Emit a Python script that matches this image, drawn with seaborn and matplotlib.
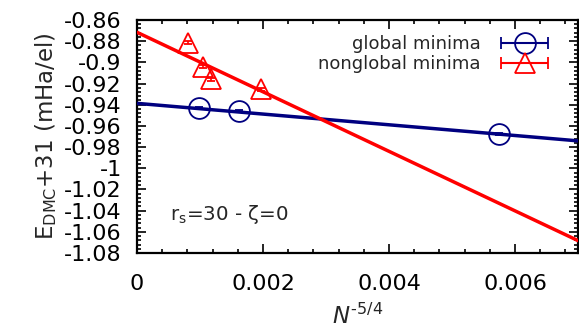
import numpy as np
import pandas as pd
import matplotlib
matplotlib.use("Agg")
import matplotlib.pyplot as plt
import seaborn as sns
from matplotlib.ticker import MultipleLocator, FixedLocator, FixedFormatter
from matplotlib.container import ErrorbarContainer
from matplotlib.legend_handler import HandlerErrorbar

# ---- data ----
global_x = [0.000989, 0.001624, 0.005746]
global_y = [-0.9434, -0.9460, -0.9677]
global_err = [0.0008, 0.0008, 0.0008]

nonglobal_x = [0.000805, 0.001052, 0.001175, 0.001963]
nonglobal_y = [-0.8814, -0.9041, -0.9160, -0.9254]
nonglobal_err = [0.0015, 0.0015, 0.0015, 0.0015]

# linear fits (intercept, slope) drawn across the x range
global_fit = (-0.9387, -5.06)
nonglobal_fit = (-0.8716, -28.1)
fit_x = [0.0, 0.007]

xticks = [0, 0.002, 0.004, 0.006]
xticklabels = ["0", "0.002", "0.004", "0.006"]
yticks = [-0.86, -0.88, -0.90, -0.92, -0.94, -0.96, -0.98, -1.00,
          -1.02, -1.04, -1.06, -1.08]
yticklabels = ["-0.86", "-0.88", "-0.9", "-0.92", "-0.94", "-0.96", "-0.98",
               "-1", "-1.02", "-1.04", "-1.06", "-1.08"]

BLUE = "#000080"
RED = "#ff0000"

sns.set_style("ticks")
plt.rcParams["font.family"] = ["DejaVu Sans"]
plt.rcParams["mathtext.fontset"] = "dejavusans"

fig = plt.figure(figsize=(5.79, 3.29), dpi=100)
ax = fig.add_axes([137 / 579, 1 - 253 / 329, 441 / 579, 233 / 329])

fits = pd.DataFrame({
    "x": fit_x * 2,
    "y": [global_fit[0] + global_fit[1] * v for v in fit_x]
         + [nonglobal_fit[0] + nonglobal_fit[1] * v for v in fit_x],
    "series": ["global"] * 2 + ["nonglobal"] * 2,
})
sns.lineplot(data=fits, x="x", y="y", hue="series",
             palette={"global": BLUE, "nonglobal": RED},
             linewidth=2.5, legend=False, ax=ax, zorder=3)

ax.errorbar(global_x, global_y, yerr=global_err, fmt="o", ms=15,
            mfc="none", mec=BLUE, mew=1.3, ecolor=BLUE, elinewidth=1.2,
            capsize=3, capthick=1.2, zorder=4)
ax.errorbar(nonglobal_x, nonglobal_y, yerr=nonglobal_err, fmt="^", ms=14,
            mfc="none", mec=RED, mew=1.3, ecolor=RED, elinewidth=1.2,
            capsize=3, capthick=1.2, zorder=4)

# legend proxies (horizontal error-bar keys)
h1 = ax.errorbar([np.nan], [np.nan], xerr=[1], fmt="o", ms=15, mfc="none",
                 mec=BLUE, mew=1.3, ecolor=BLUE, elinewidth=1.5, capsize=4,
                 capthick=1.5, label="global minima")
h2 = ax.errorbar([np.nan], [np.nan], xerr=[1], fmt="^", ms=14, mfc="none",
                 mec=RED, mew=1.3, ecolor=RED, elinewidth=1.5, capsize=4,
                 capthick=1.5, label="nonglobal minima")
leg = ax.legend(handles=[h1, h2], loc="upper right",
                bbox_to_anchor=(0.978, 0.998), frameon=False, fontsize=13,
                markerfirst=False, handlelength=3.2, handletextpad=0.85,
                labelspacing=0.12, borderpad=0.3,
                handler_map={ErrorbarContainer: HandlerErrorbar(xerr_size=1.3)})
for t in leg.get_texts():
    t.set_ha("right")

ax.set_xlim(0, 0.007)
ax.set_ylim(-1.08, -0.86)
ax.xaxis.set_major_locator(FixedLocator(xticks))
ax.xaxis.set_major_formatter(FixedFormatter(xticklabels))
ax.xaxis.set_minor_locator(MultipleLocator(0.0004))
ax.yaxis.set_major_locator(FixedLocator(yticks))
ax.yaxis.set_major_formatter(FixedFormatter(yticklabels))
ax.yaxis.set_minor_locator(MultipleLocator(0.004))

ax.tick_params(which="both", direction="in", top=True, right=True,
               width=1.2, colors="black")
ax.tick_params(which="major", length=6.5, labelsize=16)
ax.tick_params(axis="y", which="major", pad=11)
ax.tick_params(axis="x", which="major", pad=15)
ax.tick_params(which="minor", length=3)
for s in ax.spines.values():
    s.set_linewidth(1.6)
    s.set_color("black")
    s.set_visible(True)

ax.set_xlabel(r"$N^{\text{-5/4}}$", fontsize=16.5, labelpad=7)
ax.set_ylabel(r"E$_{\rm DMC}$+31 (mHa/el)", fontsize=16.5, labelpad=4)

ax.text(0.075, 0.142, r"r$_{\rm s}$=30 - ζ=0", transform=ax.transAxes,
        fontsize=14.3, va="baseline", ha="left")

fig.savefig("out.png", dpi=100)
